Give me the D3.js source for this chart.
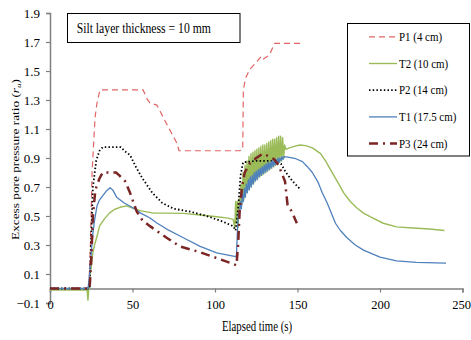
<!DOCTYPE html>
<html>
<head>
<meta charset="utf-8">
<script src="https://cdn.jsdelivr.net/npm/d3@7"></script>
<style>
  body { margin: 0; background: #fff; }
  svg text { font-family: "Liberation Serif", "Times New Roman", Times, serif; fill: #000; }
</style>
</head>
<body>
<svg id="chart" width="471" height="340"></svg>
<script>
// tick values
const xTicks = [0, 50, 100, 150, 200, 250];
const yTicks = [-0.1, 0.1, 0.3, 0.5, 0.7, 0.9, 1.1, 1.3, 1.5, 1.7, 1.9];

// [time (s), ru]
const p1Data = [
  [0, 0], [23.5, 0], [24.5, 0.3], [25.5, 0.8], [27.3, 1.18], [28.5, 1.28], [30.3, 1.37],
  [56.4, 1.37], [58.7, 1.31], [60.5, 1.28], [64.8, 1.265], [70, 1.15], [77, 1.0], [78.2, 0.95],
  [115, 0.95], [116.8, 0.96], [117.2, 1.37], [118.5, 1.45], [121, 1.51], [125, 1.56],
  [128, 1.6], [129, 1.58], [133, 1.61], [136, 1.69], [152, 1.69]
];

const t2Data = [
  [0, -0.01], [22.5, -0.01], [23, -0.08], [23.5, 0], [24.2, 0.1], [25, 0.15], [26, 0.25],
  [27, 0.3], [28.5, 0.36], [30, 0.43], [33, 0.48], [36, 0.52], [39, 0.545], [42.4, 0.56],
  [46.5, 0.57], [50, 0.555], [54.5, 0.537], [62.6, 0.52], [70, 0.52], [80.8, 0.518],
  [91, 0.507], [101, 0.495], [108, 0.485], [111, 0.477], [112, 0.42], [112.5, 0.6],
  [113, 0.45], [113.5, 0.6], [114, 0.42], [114.6, 0.62], [115.2, 0.55], [115.8, 0.72],
  [116.4, 0.58], [117, 0.8], [117.6, 0.62], [118.2, 0.85], [118.8, 0.66], [119.4, 0.88],
  [120, 0.68], [120.6, 0.91], [121.2, 0.7], [121.8, 0.93], [122.4, 0.72], [123, 0.94],
  [123.6, 0.73], [124.2, 0.95], [124.8, 0.75], [125.4, 0.96], [126, 0.76], [126.6, 0.97],
  [127.2, 0.77], [127.8, 0.98], [128.4, 0.78], [129, 0.99], [129.6, 0.79], [130.2, 0.99],
  [130.8, 0.8], [131.4, 1.0], [132, 0.81], [132.6, 1.01], [133.2, 0.82], [133.8, 1.02],
  [134.4, 0.83], [135, 1.03], [135.6, 0.84], [136.2, 1.03], [136.8, 0.85], [137.4, 1.04],
  [138, 0.86], [138.6, 1.05], [139.2, 0.87], [139.8, 1.05], [140.4, 0.88], [141, 1.04],
  [141.6, 0.9], [142.2, 0.99], [143, 0.96], [145, 0.97], [148, 0.98], [151.5, 0.99],
  [155, 0.985], [159, 0.97], [164, 0.93], [167, 0.88], [170, 0.82], [174, 0.74],
  [178, 0.66], [182, 0.6], [186, 0.555], [190, 0.52], [194, 0.495], [202, 0.45],
  [210, 0.425], [220, 0.417], [230, 0.41], [239, 0.4]
];

const p2Data = [
  [0, 0], [24, 0], [24.8, 0.3], [26, 0.7], [28, 0.88], [30, 0.95], [32, 0.975], [43, 0.975],
  [45, 0.95], [48.5, 0.92], [52, 0.84], [56, 0.76], [62, 0.66], [68, 0.59], [75, 0.55],
  [85, 0.53], [95, 0.5], [105, 0.46], [111, 0.43], [112.5, 0.4], [114, 0.55], [115.5, 0.78],
  [117, 0.87], [125, 0.88], [132, 0.88], [138, 0.88], [140, 0.86], [143, 0.8], [147, 0.74],
  [152, 0.68]
];

const t1Data = [
  [0, 0], [23, 0], [23.6, 0.05], [24.2, 0.12], [25, 0.25], [26, 0.38], [27, 0.47],
  [28.5, 0.57], [30, 0.61], [32, 0.64], [34, 0.67], [36.4, 0.695], [38, 0.68], [40.4, 0.63],
  [45, 0.59], [50.5, 0.555], [55, 0.52], [60.6, 0.486], [65, 0.45], [70.7, 0.41],
  [80.8, 0.35], [91, 0.29], [101, 0.245], [111, 0.224], [112.5, 0.22], [113, 0.23],
  [113.6, 0.4], [114.2, 0.52], [114.8, 0.5], [115.4, 0.6], [116, 0.55], [116.6, 0.65],
  [117.2, 0.6], [117.8, 0.69], [118.4, 0.63], [119, 0.72], [119.6, 0.66], [120.2, 0.75],
  [120.8, 0.68], [121.4, 0.77], [122, 0.7], [122.6, 0.78], [123.2, 0.72], [123.8, 0.8],
  [124.4, 0.74], [125, 0.81], [125.6, 0.75], [126.2, 0.82], [126.8, 0.77], [127.4, 0.83],
  [128, 0.78], [128.6, 0.84], [129.2, 0.79], [129.8, 0.85], [130.4, 0.8], [131, 0.86],
  [131.6, 0.81], [132.2, 0.87], [132.8, 0.82], [133.4, 0.87], [134, 0.83], [134.6, 0.88],
  [135.2, 0.84], [135.8, 0.89], [136.4, 0.85], [137, 0.89], [137.6, 0.86], [138.2, 0.9],
  [138.8, 0.87], [139.4, 0.9], [140, 0.88], [140.6, 0.91], [141.2, 0.89], [142, 0.91],
  [145, 0.905], [149, 0.895], [153, 0.875], [156, 0.84], [159, 0.8], [162.6, 0.73],
  [165, 0.66], [168, 0.59], [173, 0.45], [176, 0.4], [180, 0.35], [185, 0.3], [190, 0.265],
  [200, 0.217], [210, 0.19], [222, 0.18], [240, 0.175]
];

const p3Data = [
  [0, 0], [24, 0], [25, 0.2], [26, 0.5], [27.5, 0.68], [30, 0.76], [32, 0.8], [40, 0.8],
  [42, 0.78], [45.5, 0.74], [48.5, 0.66], [52.6, 0.53], [56, 0.47], [60.6, 0.43],
  [70.7, 0.35], [78.8, 0.29], [91, 0.25], [101, 0.21], [111, 0.17], [113, 0.16], [114, 0.3],
  [115, 0.55], [116.5, 0.71], [118, 0.8], [121, 0.86], [125, 0.9], [129, 0.93], [133, 0.91],
  [136, 0.89], [138.5, 0.85], [142.4, 0.74], [144, 0.575], [146.6, 0.53], [149.6, 0.45]
];

const seriesNames = ["P1 (4 cm)", "T2 (10 cm)", "P2 (14 cm)", "T1 (17.5 cm)", "P3 (24 cm)"];
const seriesData = [p1Data, t2Data, p2Data, t1Data, p3Data];

const styles = [
  { color: "#e06666", width: 1.2, dash: "6,4" },
  { color: "#9bbb59", width: 1.4, dash: null },
  { color: "#000000", width: 1.8, dash: "1.5,2.2" },
  { color: "#4f81bd", width: 1.3, dash: null },
  { color: "#7b2525", width: 2.5, dash: "9,5,2,5" }
];

const svg = d3.select("#chart");

const x = d3.scaleLinear().domain([0, 250]).range([50, 462.5]);
const y = d3.scaleLinear().domain([-0.1, 1.9]).range([303, 13]);

const axisColor = "#808080";

// the source picture is squeezed sideways, so text gets a horizontal scale
function squished(parent, px, py, sx, size, str, anchor) {
  return parent.append("text")
    .attr("transform", "translate(" + px + "," + py + ") scale(" + sx + ",1)")
    .attr("text-anchor", anchor || "start")
    .style("font-size", size + "px")
    .text(str);
}

// y axis
const yAxis = svg.append("g")
  .attr("transform", "translate(" + x(0) + ",0)")
  .call(d3.axisLeft(y).tickValues(yTicks).tickSize(4).tickPadding(6)
    .tickFormat(d3.format(".1f")));
yAxis.attr("font-family", null);
yAxis.select(".domain").attr("stroke", axisColor).attr("stroke-width", 1.5);
yAxis.selectAll(".tick line").attr("stroke", axisColor).attr("stroke-width", 1.2);
yAxis.selectAll("text").style("font-size", "13px").attr("fill", "#000");

// x axis at ru = 0
const xAxis = svg.append("g")
  .attr("transform", "translate(0," + y(0) + ")")
  .call(d3.axisBottom(x).tickValues(xTicks).tickSize(4).tickPadding(8));
xAxis.attr("font-family", null);
xAxis.select(".domain").attr("stroke", axisColor).attr("stroke-width", 1.5);
xAxis.selectAll(".tick line").attr("stroke", axisColor).attr("stroke-width", 1.2);
xAxis.selectAll("text").style("font-size", "12.5px").attr("fill", "#000")
  .attr("dx", function (d) { return d === 250 ? -1.5 : 0; });

// series
const line = d3.line()
  .x(function (d) { return x(d[0]); })
  .y(function (d) { return y(d[1]); });

svg.append("g")
  .selectAll("path")
  .data(seriesData)
  .enter()
  .append("path")
  .attr("d", line)
  .attr("fill", "none")
  .attr("stroke", function (d, i) { return styles[i].color; })
  .attr("stroke-width", function (d, i) { return styles[i].width; })
  .attr("stroke-dasharray", function (d, i) { return styles[i].dash; })
  .attr("stroke-linejoin", "round");

// title box
svg.append("rect")
  .attr("x", 67.5).attr("y", 13.5).attr("width", 172.5).attr("height", 29)
  .attr("fill", "#fff").attr("stroke", "#000").attr("stroke-width", 1);
squished(svg, 76.7, 32.5, 0.78, 15, "Silt layer thickness = 10 mm");

// legend
svg.append("rect")
  .attr("x", 347.5).attr("y", 23.5).attr("width", 122).attr("height", 132.5)
  .attr("fill", "#fff").attr("stroke", "#000").attr("stroke-width", 1);

const legend = svg.append("g")
  .selectAll("g")
  .data(seriesNames)
  .enter()
  .append("g")
  .attr("transform", function (d, i) { return "translate(0," + (36.8 + i * 26.7) + ")"; });

legend.append("line")
  .attr("x1", 369).attr("x2", 397)
  .attr("stroke", function (d, i) { return styles[i].color; })
  .attr("stroke-width", function (d, i) { return styles[i].width; })
  .attr("stroke-dasharray", function (d, i) { return styles[i].dash; });

legend.each(function (d) {
  squished(d3.select(this), 399, 4.2, 0.84, 13, d);
});

// axis titles
squished(svg, 257, 331.3, 0.77, 14, "Elapsed time (s)", "middle");

const yTitle = svg.append("text")
  .attr("transform", "translate(19,159.5) scale(0.77,1) rotate(-90)")
  .attr("text-anchor", "middle")
  .style("font-size", "13.3px");
yTitle.append("tspan").text("Excess pore pressure ratio  (");
yTitle.append("tspan").style("font-style", "italic").text("r");
yTitle.append("tspan").attr("dy", 3).style("font-size", "9px").style("font-style", "italic").text("u");
yTitle.append("tspan").attr("dy", -3).text(")");
</script>
</body>
</html>
